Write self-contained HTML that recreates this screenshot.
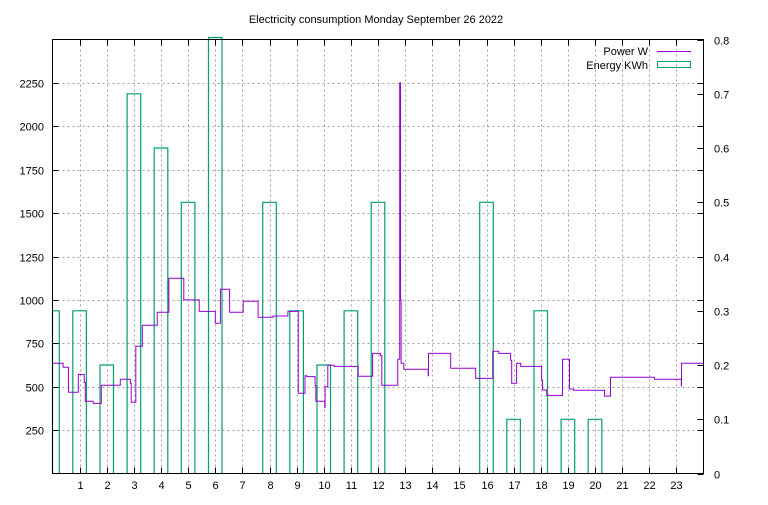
<!DOCTYPE html>
<html><head><meta charset="utf-8"><style>
body{margin:0;background:#fff;}
svg text{font-family:"Liberation Sans","DejaVu Sans",sans-serif;font-size:11px;fill:#000;}
</style></head><body>
<svg id="chart" width="768" height="500" xmlns="http://www.w3.org/2000/svg">
<text x="376" y="23" text-anchor="middle">Electricity consumption Monday September 26 2022</text>
<g id="grid"></g>
<g id="bars"></g>
<path id="power" fill="none" stroke="#9400d3" stroke-width="1"/>
<g id="axes"></g>
<rect x="52.5" y="39.5" width="651" height="434" fill="none" stroke="#000"/>
<g>
<text x="648" y="55" text-anchor="end">Power W</text>
<line x1="657" y1="51.5" x2="691" y2="51.5" stroke="#9400d3"/>
<text x="648" y="69" text-anchor="end">Energy KWh</text>
<rect x="657.5" y="61.5" width="33" height="6" fill="none" stroke="#009e73"/>
</g>
</svg>
<script>
const hourTicks=[1,2,3,4,5,6,7,8,9,10,11,12,13,14,15,16,17,18,19,20,21,22,23];
const powerTicks=[250,500,750,1000,1250,1500,1750,2000,2250];
const energyTicks=[0,0.1,0.2,0.3,0.4,0.5,0.6,0.7,0.8];
const energyHours=[0,1,2,3,4,5,6,8,9,10,11,12,16,17,18,19,20];
const energyValues=[0.3,0.3,0.2,0.7,0.6,0.5,1.0,0.5,0.3,0.2,0.3,0.5,0.5,0.1,0.3,0.1,0.1];
const powerTimes=[0,0.39,0.585,0.95,1.17,1.21,1.5,1.8,2.5,2.87,2.9,3.07,3.31,3.86,4.29,4.84,5.41,6.0,6.19,6.53,7.03,7.58,8.13,8.68,9.06,9.31,9.37,9.68,9.71,10.04,10.05,10.15,10.38,11.27,11.8,12.09,12.14,12.73,12.8,12.83,12.85,12.95,13.85,13.86,14.68,15.6,16.23,16.45,16.89,16.93,17.11,17.26,18.03,18.07,18.22,18.8,19.06,19.21,20.35,20.57,22.19,23.18,23.19,24];
const powerValues=[635,612,468,571,525,416,404,508,543,520,410,733,854,929,1125,1000,934,865,1061,929,992,900,907,934,462,563,558,506,416,379,500,623,617,560,692,679,508,658,2250,1000,635,600,563,692,606,548,704,692,652,520,635,617,537,481,450,658,487,479,446,554,543,504,635,635];
const X0=52.5,X1=703.5,Y0=473.5,Y1=39.5;
const xs=h=>X0+(h-0)/24*(X1-X0);
const yl=v=>Y0-v/2500*(Y0-Y1);
const yr=v=>Y0-v/0.8*(Y0-Y1);
const NS="http://www.w3.org/2000/svg";
function mk(tag,attrs,parent){const e=document.createElementNS(NS,tag);for(const k in attrs)e.setAttribute(k,attrs[k]);parent.appendChild(e);return e;}
const grid=document.getElementById('grid'),axes=document.getElementById('axes'),bars=document.getElementById('bars');
hourTicks.forEach(h=>{
 const x=Math.round(xs(h))+0.5;
 const g=mk('line',{x1:x,y1:Y1,x2:x,y2:Y0,stroke:'#a0a0a0','stroke-dasharray':'2,3'},grid);
 
 
 mk('line',{x1:x,y1:Y0,x2:x,y2:Y0-6,stroke:'#000'},axes);
 mk('line',{x1:x,y1:Y1,x2:x,y2:Y1+6,stroke:'#000'},axes);
 const t=mk('text',{x:x,y:489,'text-anchor':'middle'},axes);t.textContent=h;
 
 
});
powerTicks.forEach(v=>{
 const y=Math.round(yl(v))+0.5;
 const g=mk('line',{x1:X0,y1:y,x2:X1,y2:y,stroke:'#a0a0a0','stroke-dasharray':'2,3'},grid);
 
 
 mk('line',{x1:X0,y1:y,x2:X0+6,y2:y,stroke:'#000'},axes);
 mk('line',{x1:X1,y1:y,x2:X1-6,y2:y,stroke:'#000'},axes);
 const t=mk('text',{x:44,y:y+4,'text-anchor':'end'},axes);t.textContent=v;
 
 
});
energyTicks.forEach(v=>{
 const y=Math.round(yr(v))+0.5;
 mk('line',{x1:X1,y1:y,x2:X1-6,y2:y,stroke:'#000'},axes);
 const t=mk('text',{x:714,y:y+4,'text-anchor':'start'},axes);t.textContent=v===0?'0':v.toFixed(1);
 
 
});
energyHours.forEach((h,i)=>{
 let xa=xs(h-0.25),xb=xs(h+0.25);
 xa=Math.max(xa,X0);
 const yt=Math.max(yr(energyValues[i]),Y1-2);
 const p=mk('path',{d:`M${xa.toFixed(1)},${Y0} L${xa.toFixed(1)},${yt.toFixed(1)} L${xb.toFixed(1)},${yt.toFixed(1)} L${xb.toFixed(1)},${Y0}`,fill:'none',stroke:'#009e73','stroke-width':1.2},bars);
 
 
});
let d='';
for(let i=0;i<powerTimes.length-1;i++){
 const x=xs(powerTimes[i]).toFixed(1),x2=xs(powerTimes[i+1]).toFixed(1),y=yl(powerValues[i]).toFixed(1);
 d+=(i===0?'M':'L')+x+','+y+' L'+x2+','+y+' ';
}
document.getElementById('power').setAttribute('d',d);
</script>
</body></html>
